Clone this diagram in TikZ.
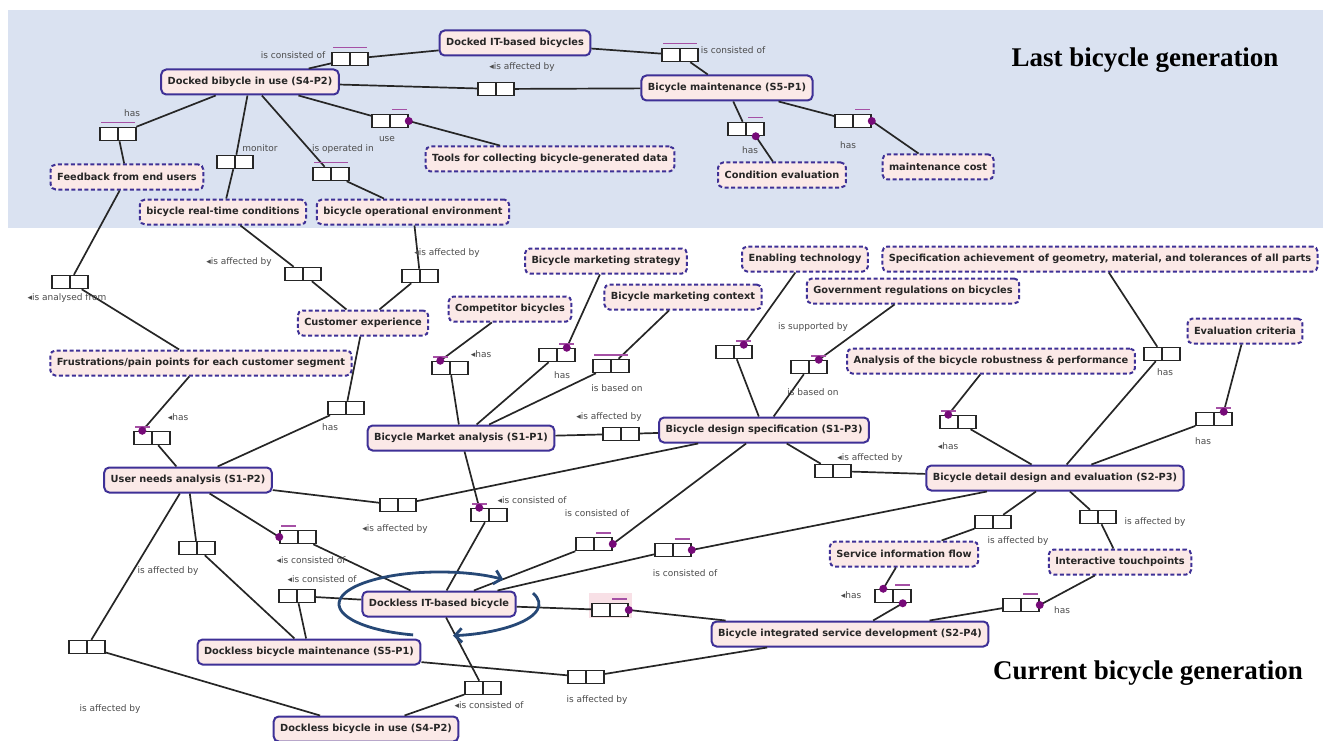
\documentclass[tikz,border=0pt]{standalone}
\usepackage{fontspec}
\setmainfont{DejaVu Sans}
\newfontfamily\titlefont{Liberation Serif}
\usepackage{tikz}
\usetikzlibrary{calc}
\usetikzlibrary{arrows.meta}
\definecolor{bandblue}{RGB}{218,226,241}
\definecolor{conceptfill}{RGB}{251,233,231}
\definecolor{conceptedge}{RGB}{62,48,150}
\definecolor{markpurple}{RGB}{118,10,120}
\definecolor{barpurple}{RGB}{165,80,165}
\definecolor{cycblue}{RGB}{38,72,118}
\definecolor{hilite}{RGB}{248,224,230}
\definecolor{labelgray}{RGB}{75,75,75}
\tikzset{
  concept/.style={draw=conceptedge, fill=conceptfill, rounded corners=5pt, line width=2pt,
    font=\fontsize{9.8}{11}\selectfont\bfseries, text=black!85, inner xsep=6.5pt, inner ysep=0pt, minimum height=25pt},
  prop/.style={concept, dash pattern=on 4pt off 2.5pt},
  linkbox/.style={draw=black!85, fill=white, line width=1.5pt, minimum width=36pt, minimum height=13pt, inner sep=0pt,
    path picture={\draw[line width=1.5pt] (path picture bounding box.north) -- (path picture bounding box.south);}},
  linklabel/.style={font=\fontsize{9}{10}\selectfont, text=labelgray, inner sep=1pt},
  conn/.style={line width=1.7pt, draw=black!85},
  markbar/.style={line width=1.5pt, draw=barpurple},
  cyc/.style={line width=2.8pt, draw=cycblue, -{Straight Barb[length=7pt,width=14pt]}},
  gentitle/.style={font=\titlefont\fontsize{27}{30}\selectfont\bfseries, text=black},
}
\newcommand{\conceptnode}[4]{\node[concept] (#1) at (#2,#3) {#4};}
\newcommand{\propnode}[4]{\node[prop] (#1) at (#2,#3) {#4};}
\newcommand{\linkbox}[3]{\node[linkbox] (#1) at (#2,#3) {};}
\newcommand{\linklabel}[4]{\node[linklabel] (#1) at (#2,#3) {#4};}
\newcommand{\fullbar}[1]{\draw[markbar] ($(#1.north west)+(2,-4)$) -- ($(#1.north east)+(-2,-4)$);}
\newcommand{\rightbar}[1]{\draw[markbar] ($(#1.north)+(2,-4)$) -- ($(#1.north east)+(-2,-4)$);}
\newcommand{\leftbar}[1]{\draw[markbar] ($(#1.north west)+(2,-4)$) -- ($(#1.north)+(-2,-4)$);}

\begin{document}
\begin{tikzpicture}[x=1pt,y=-1pt]
\useasboundingbox (0,0) rectangle (1323,741);
% band of the last generation
\fill[bandblue] (8,10) rectangle (1323,228);
\fill[hilite] (589,593) rectangle (632,618);
% last generation concepts
\conceptnode{dockIT}{515}{43}{Docked IT-based bicycles}
\conceptnode{dockUse}{250}{82}{Docked bibycle in use (S4-P2)}
\conceptnode{bikeMaint}{727}{88}{Bicycle maintenance (S5-P1)}
\propnode{tools}{550}{159}{Tools for collecting bicycle-generated data}
\propnode{feedback}{127}{177}{Feedback from end users}
\propnode{rtCond}{223}{212}{bicycle real-time conditions}
\propnode{opEnv}{413}{212}{bicycle operational environment}
\propnode{condEval}{782}{175}{Condition evaluation}
\propnode{maintCost}{938}{167}{maintenance cost}
% analysis concepts
\propnode{custExp}{363}{323}{Customer experience}
\propnode{frust}{201}{363}{Frustrations/pain points for each customer segment}
\conceptnode{userNeeds}{188}{480}{User needs analysis (S1-P2)}
\propnode{competitor}{510}{309}{Competitor bicycles}
\propnode{mktStrategy}{606}{261}{Bicycle marketing strategy}
\propnode{mktContext}{683}{297}{Bicycle marketing context}
\propnode{enabling}{805}{259}{Enabling technology}
\propnode{govReg}{913}{291}{Government regulations on bicycles}
\propnode{specAch}{1100}{259}{Specification achievement of geometry, material, and tolerances of all parts}
\propnode{evalCrit}{1245}{331}{Evaluation criteria}
\propnode{robust}{991}{361}{Analysis of the bicycle robustness \& performance}
\conceptnode{market}{461}{438}{Bicycle Market analysis (S1-P1)}
\conceptnode{designSpec}{764}{430}{Bicycle design specification (S1-P3)}
\conceptnode{detail}{1055}{478}{Bicycle detail design and evaluation (S2-P3)}
% current generation concepts
\conceptnode{docklessIT}{439}{604}{Dockless IT-based bicycle}
\conceptnode{docklessMaint}{309}{652}{Dockless bicycle maintenance (S5-P1)}
\conceptnode{docklessUse}{366}{729}{Dockless bicycle in use (S4-P2)}
\conceptnode{integrated}{850}{634}{Bicycle integrated service development (S2-P4)}
\propnode{serviceFlow}{904}{554}{Service information flow}
\propnode{touchpoints}{1120}{562}{Interactive touchpoints}
% link boxes, top
\linkbox{lA}{350}{59}
\linkbox{lB}{680}{55}
\linkbox{lC}{496}{89}
\linkbox{lD}{390}{121}
\linkbox{lE}{118}{134}
\linkbox{lF}{235}{162}
\linkbox{lG}{331}{174}
\linkbox{lH}{746}{129}
\linkbox{lI}{853}{121}
% link boxes, middle
\linkbox{lJ}{70}{282}
\linkbox{lK}{303}{274}
\linkbox{lL}{420}{276}
\linkbox{lM}{152}{438}
\linkbox{lN}{346}{408}
\linkbox{lO}{450}{368}
\linkbox{lP}{557}{355}
\linkbox{lQ}{611}{366}
\linkbox{lR}{621}{434}
\linkbox{lS}{734}{352}
\linkbox{lT}{809}{367}
\linkbox{lU}{833}{471}
\linkbox{lV}{958}{422}
\linkbox{lW}{1162}{354}
\linkbox{lX}{1214}{419}
% link boxes, bottom
\linkbox{lY}{398}{505}
\linkbox{lZ}{298}{537}
\linkbox{lAA}{197}{548}
\linkbox{lAB}{297}{596}
\linkbox{lAC}{87}{647}
\linkbox{lAD}{489}{515}
\linkbox{lAE}{594}{544}
\linkbox{lAF}{673}{550}
\linkbox{lAG}{610}{610}
\linkbox{lAH}{483}{688}
\linkbox{lAI}{586}{677}
\linkbox{lAJ}{993}{522}
\linkbox{lAK}{1098}{517}
\linkbox{lAL}{893}{596}
\linkbox{lAM}{1021}{605}
% dot points
\coordinate (dD) at (lD.east);
\coordinate (dH) at ($(lH.south east)+(-9,0)$);
\coordinate (dI) at (lI.east);
\coordinate (dM) at ($(lM.north west)+(9,0)$);
\coordinate (dO) at ($(lO.north west)+(9,0)$);
\coordinate (dP) at ($(lP.north east)+(-9,0)$);
\coordinate (dS) at ($(lS.north east)+(-9,0)$);
\coordinate (dT) at ($(lT.north east)+(-9,0)$);
\coordinate (dV) at ($(lV.north west)+(9,0)$);
\coordinate (dX) at ($(lX.north east)+(-9,0)$);
\coordinate (dZ) at (lZ.west);
\coordinate (dAD) at ($(lAD.north west)+(9,0)$);
\coordinate (dAE) at (lAE.east);
\coordinate (dAF) at (lAF.east);
\coordinate (dAG) at (lAG.east);
\coordinate (dAL1) at ($(lAL.north west)+(9,0)$);
\coordinate (dAL2) at ($(lAL.south east)+(-9,0)$);
\coordinate (dAM) at (lAM.east);
% connectors, top
\draw[conn] (dockUse) -- (lA); \draw[conn] (lA) -- (dockIT);
\draw[conn] (dockIT) -- (lB); \draw[conn] (lB) -- (bikeMaint);
\draw[conn] (dockUse) -- (lC); \draw[conn] (lC) -- (bikeMaint);
\draw[conn] (dockUse) -- (lD); \draw[conn] (dD) -- (tools);
\draw[conn] (dockUse) -- (lE); \draw[conn] (lE) -- (feedback);
\draw[conn] (dockUse) -- (lF); \draw[conn] (lF) -- (rtCond);
\draw[conn] (dockUse) -- (lG); \draw[conn] (lG) -- (opEnv);
\draw[conn] (bikeMaint) -- (lH); \draw[conn] (dH) -- (condEval);
\draw[conn] (bikeMaint) -- (lI); \draw[conn] (dI) -- (maintCost);
% connectors, middle
\draw[conn] (feedback) -- (lJ); \draw[conn] (lJ) -- (frust);
\draw[conn] (rtCond) -- (lK); \draw[conn] (lK) -- (custExp);
\draw[conn] (opEnv) -- (lL); \draw[conn] (lL) -- (custExp);
\draw[conn] (frust) -- (dM); \draw[conn] (lM) -- (userNeeds);
\draw[conn] (userNeeds) -- (lN); \draw[conn] (lN) -- (custExp);
\draw[conn] (competitor) -- (dO); \draw[conn] (lO) -- (market);
\draw[conn] (mktStrategy) -- (dP); \draw[conn] (lP) -- (market);
\draw[conn] (mktContext) -- (lQ); \draw[conn] (lQ) -- (market);
\draw[conn] (market) -- (lR); \draw[conn] (lR) -- (designSpec);
\draw[conn] (enabling) -- (dS); \draw[conn] (lS) -- (designSpec);
\draw[conn] (govReg) -- (dT); \draw[conn] (lT) -- (designSpec);
\draw[conn] (designSpec) -- (lU); \draw[conn] (lU) -- (detail);
\draw[conn] (robust) -- (dV); \draw[conn] (lV) -- (detail);
\draw[conn] (specAch) -- (lW); \draw[conn] (lW) -- (detail);
\draw[conn] (evalCrit) -- (dX); \draw[conn] (lX) -- (detail);
% connectors, bottom
\draw[conn] (userNeeds) -- (lY); \draw[conn] (lY) -- (designSpec);
\draw[conn] (userNeeds) -- (dZ); \draw[conn] (lZ) -- (docklessIT);
\draw[conn] (userNeeds) -- (lAA); \draw[conn] (lAA) -- (docklessMaint);
\draw[conn] (docklessMaint) -- (lAB); \draw[conn] (lAB) -- (docklessIT);
\draw[conn] (userNeeds) -- (lAC); \draw[conn] (lAC) -- (docklessUse);
\draw[conn] (market) -- (dAD); \draw[conn] (lAD) -- (docklessIT);
\draw[conn] (designSpec) -- (dAE); \draw[conn] (lAE) -- (docklessIT);
\draw[conn] (detail) -- (dAF); \draw[conn] (lAF) -- (docklessIT);
\draw[conn] (docklessIT) -- (lAG); \draw[conn] (dAG) -- (integrated);
\draw[conn] (docklessIT) -- (lAH); \draw[conn] (lAH) -- (docklessUse);
\draw[conn] (docklessMaint) -- (lAI); \draw[conn] (lAI) -- (integrated);
\draw[conn] (detail) -- (lAJ); \draw[conn] (lAJ) -- (serviceFlow);
\draw[conn] (detail) -- (lAK); \draw[conn] (lAK) -- (touchpoints);
\draw[conn] (serviceFlow) -- (dAL1); \draw[conn] (dAL2) -- (integrated);
\draw[conn] (touchpoints) -- (dAM); \draw[conn] (lAM) -- (integrated);
% cycle round the dockless bicycle
\draw[cyc] ($(docklessIT.center)+(255:100pt and 32pt)$) arc[start angle=255, end angle=50, x radius=100pt, y radius=32pt];
\draw[cyc] ($(docklessIT.center)+(20:100pt and 32pt)$) arc[start angle=20, end angle=-82, x radius=100pt, y radius=32pt];
% purple bars
\fullbar{lA} \fullbar{lB} \fullbar{lE} \fullbar{lG} \fullbar{lQ}
\rightbar{lD} \rightbar{lH} \rightbar{lI} \rightbar{lP} \rightbar{lS} \rightbar{lT} \rightbar{lX}
\rightbar{lAE} \rightbar{lAF} \rightbar{lAG} \rightbar{lAL} \rightbar{lAM}
\leftbar{lM} \leftbar{lO} \leftbar{lV} \leftbar{lZ} \leftbar{lAD}
\foreach \d in {dD,dH,dI,dM,dO,dP,dS,dT,dV,dX,dZ,dAD,dAE,dAF,dAG,dAL1,dAL2,dAM}
  \fill[markpurple] (\d) circle (4pt);
% link labels
\linklabel{tA}{293}{55}{is consisted of}
\linklabel{tB}{733}{50}{is consisted of}
\linklabel{tC}{522}{67}{◂is affected by}
\linklabel{tD}{387}{139}{use}
\linklabel{tE}{132}{113}{has}
\linklabel{tF}{260}{148}{monitor}
\linklabel{tG}{343}{149}{is operated in}
\linklabel{tH}{750}{150}{has}
\linklabel{tI}{848}{145}{has}
\linklabel{tJ}{67}{298}{◂is analysed from}
\linklabel{tK}{239}{262}{◂is affected by}
\linklabel{tL}{447}{253}{◂is affected by}
\linklabel{tM}{178}{417}{◂has}
\linklabel{tN}{330}{427}{has}
\linklabel{tO}{481}{354}{◂has}
\linklabel{tP}{562}{375}{has}
\linklabel{tQ}{617}{388}{is based on}
\linklabel{tR}{609}{417}{◂is affected by}
\linklabel{tS}{813}{327}{is supported by}
\linklabel{tT}{813}{392}{is based on}
\linklabel{tU}{870}{458}{◂is affected by}
\linklabel{tV}{948}{446}{◂has}
\linklabel{tW}{1165}{372}{has}
\linklabel{tX}{1203}{441}{has}
\linklabel{tY}{395}{529}{◂is affected by}
\linklabel{tZ}{311}{560}{◂is consisted of}
\linklabel{tAA}{168}{571}{is affected by}
\linklabel{tAB}{322}{579}{◂is consisted of}
\linklabel{tAC}{110}{709}{is affected by}
\linklabel{tAD}{532}{500}{◂is consisted of}
\linklabel{tAE}{597}{513}{is consisted of}
\linklabel{tAF}{685}{573}{is consisted of}
\linklabel{tAH}{489}{705}{◂is consisted of}
\linklabel{tAI}{597}{700}{is affected by}
\linklabel{tAJ}{1018}{541}{is affected by}
\linklabel{tAK}{1155}{522}{is affected by}
\linklabel{tAL}{851}{595}{◂has}
\linklabel{tAM}{1062}{610}{has}
% generation titles
\node[gentitle] (lastGen) at (1145,60) {Last bicycle generation};
\node[gentitle] (currGen) at (1148,673) {Current bicycle generation};
\end{tikzpicture}
\end{document}
